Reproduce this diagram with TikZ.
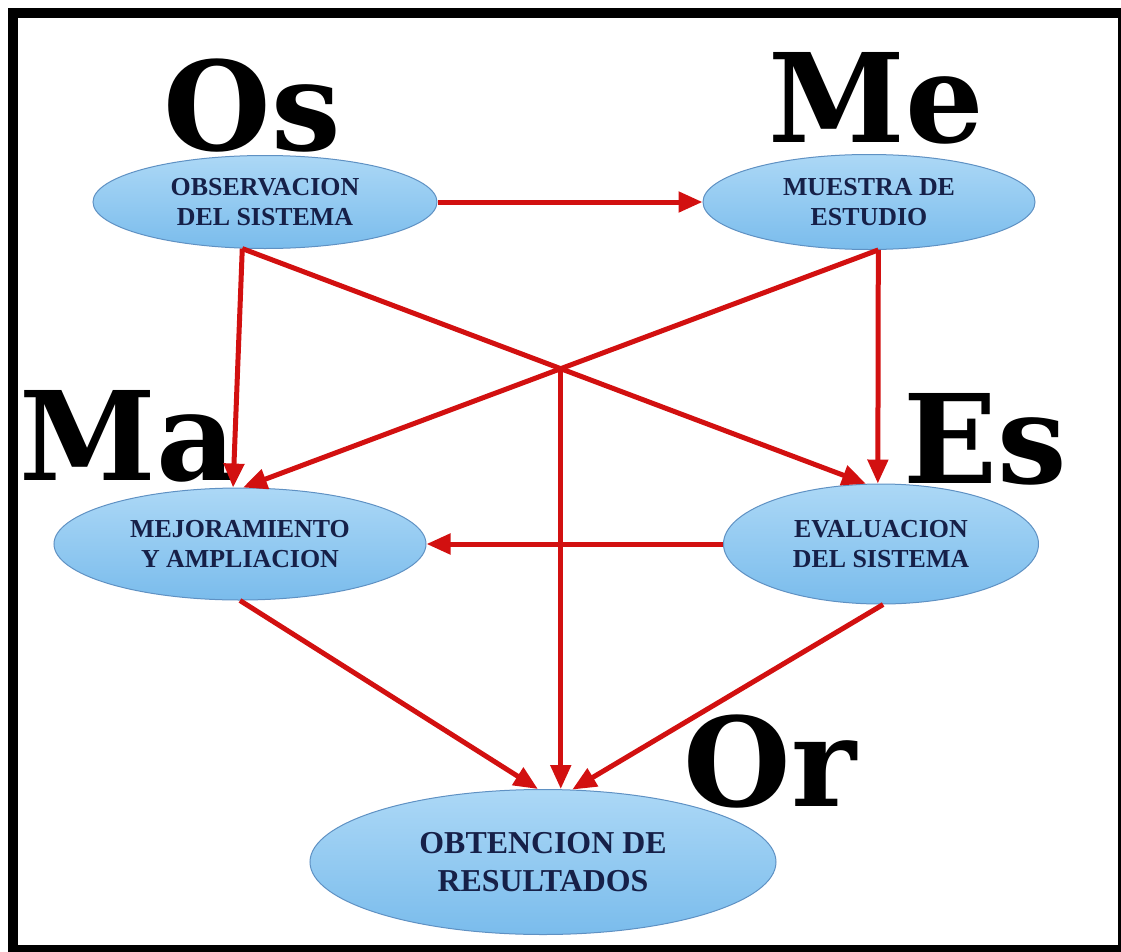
\documentclass[tikz,border=0pt]{standalone}
\usepackage{fontspec}
\setmainfont{Liberation Serif}
\newfontfamily\slabfont{DejaVu Serif}
\usetikzlibrary{arrows.meta,shapes.geometric}

\definecolor{arrowred}{RGB}{210,16,16}
\definecolor{ovaltop}{RGB}{172,216,246}
\definecolor{ovalbot}{RGB}{122,188,236}
\definecolor{ovalline}{RGB}{95,145,195}
\definecolor{navytext}{RGB}{22,32,72}

\begin{document}
\begin{tikzpicture}[
  x=1bp, y=-1bp,
  oval/.style={ellipse, draw=ovalline, line width=1bp, top color=ovaltop, bottom color=ovalbot, text=navytext, align=center, inner sep=1bp, font=\bfseries\fontsize{26}{30}\selectfont},
  tag/.style={anchor=base, inner sep=0pt, font=\slabfont\bfseries\fontsize{124}{124}\selectfont},
  flow/.style={draw=arrowred, line width=5bp, -{Triangle[length=24bp,width=20bp]}}
]
\useasboundingbox (0,0) rectangle (1121,952);
\draw[line width=10bp] (13,12.5) rectangle (1123,950);

\node[oval, minimum width=344bp, minimum height=93bp] (obs) at (265,202) {OBSERVACION\\DEL SISTEMA};
\node[oval, minimum width=332bp, minimum height=95bp] (mue) at (869,202) {MUESTRA DE\\ESTUDIO};
\node[oval, minimum width=372bp, minimum height=112bp] (mej) at (240,544) {MEJORAMIENTO\\Y AMPLIACION};
\node[oval, minimum width=315bp, minimum height=120bp] (eva) at (881,544) {EVALUACION\\DEL SISTEMA};
\node[oval, minimum width=466bp, minimum height=145bp, font=\bfseries\fontsize{32}{38}\selectfont] (obt) at (543,862) {OBTENCION DE\\RESULTADOS};

\node[tag] (os) at (252,150) {Os};
\node[tag] (me) at (876,142) {Me};
\node[tag] (ma) at (128,480) {Ma};
\node[tag] (es) at (985,483) {Es};
\node[tag] (or) at (770,806) {Or};

\coordinate (cross) at (intersection of obs.244--eva.104 and mue.281--mej.87);

\draw[flow] (obs.east) -- (mue.west);
\draw[flow] (obs.244) -- (mej.97);
\draw[flow] (obs.244) -- (eva.104);
\draw[flow] (mue.281) -- (eva.93);
\draw[flow] (mue.281) -- (mej.87);
\draw[flow] (cross) -- (cross |- obt.north);
\draw[flow] (eva.west) -- (mej.east);
\draw[flow] (mej.270) -- (obt.94);
\draw[flow] (eva.272) -- (obt.68);
\end{tikzpicture}
\end{document}
